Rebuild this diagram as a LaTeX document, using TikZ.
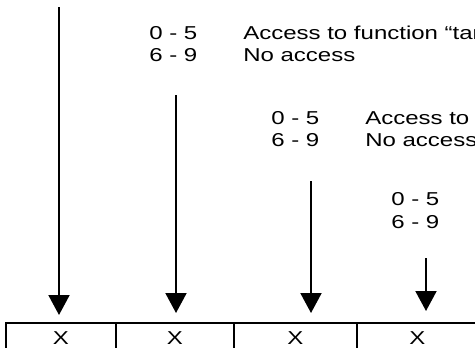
\documentclass[tikz,border=0pt]{standalone}
\usepackage{fontspec}
\setmainfont{Liberation Sans}
\usepackage{graphicx}
\usetikzlibrary{arrows.meta}
\newcommand{\widetxt}[1]{\scalebox{1.286}[1]{#1}}
\begin{document}
\begin{tikzpicture}[x=0.75pt,y=-0.75pt,
  lbl/.style={anchor=base west, inner sep=0pt, font=\fontsize{14}{16}\selectfont},
  cell/.style={draw, line width=1.5pt, minimum height=31*0.75pt, inner sep=0pt, font=\fontsize{14}{16}\selectfont},
  acc/.style={line width=1.5pt, -{Triangle[length=15pt,width=15.75pt]}}]
\useasboundingbox (0,0) rectangle (475,347);
\clip (0,0) rectangle (475,347);
% cells
\node[cell, minimum width=110*0.75pt] (c1) at (61,338.5) {\widetxt{X}};
\node[cell, minimum width=118*0.75pt] (c2) at (175,338.5) {\widetxt{X}};
\node[cell, minimum width=123*0.75pt] (c3) at (295.5,338.5) {\widetxt{X}};
\node[cell, minimum width=121*0.75pt] (c4) at (417.5,338.5) {\widetxt{X}};
% arrows
\coordinate (s1) at (59,7);    \coordinate (e1) at (59,315);
\coordinate (s2) at (176,95);  \coordinate (e2) at (176,313);
\coordinate (s3) at (311,181); \coordinate (e3) at (311,313);
\coordinate (s4) at (426,258); \coordinate (e4) at (426,311);
\draw[acc] (s1) -- (e1);
\draw[acc] (s2) -- (e2);
\draw[acc] (s3) -- (e3);
\draw[acc] (s4) -- (e4);
% labels group 1
\node[lbl] (g1a) at (149,39.7) {\widetxt{0 - 5}};
\node[lbl] (g1b) at (149,61.7) {\widetxt{6 - 9}};
\node[lbl] (g1c) at (243,39.7) {\widetxt{Access to function “tar}};
\node[lbl] (g1d) at (243,61.7) {\widetxt{No access}};
% labels group 2
\node[lbl] (g2a) at (271,124.7) {\widetxt{0 - 5}};
\node[lbl] (g2b) at (271,146.7) {\widetxt{6 - 9}};
\node[lbl] (g2c) at (365,124.7) {\widetxt{Access to}};
\node[lbl] (g2d) at (365,146.7) {\widetxt{No access}};
% labels group 3
\node[lbl] (g3a) at (391,205.7) {\widetxt{0 - 5}};
\node[lbl] (g3b) at (391,228.7) {\widetxt{6 - 9}};
\end{tikzpicture}
\end{document}
